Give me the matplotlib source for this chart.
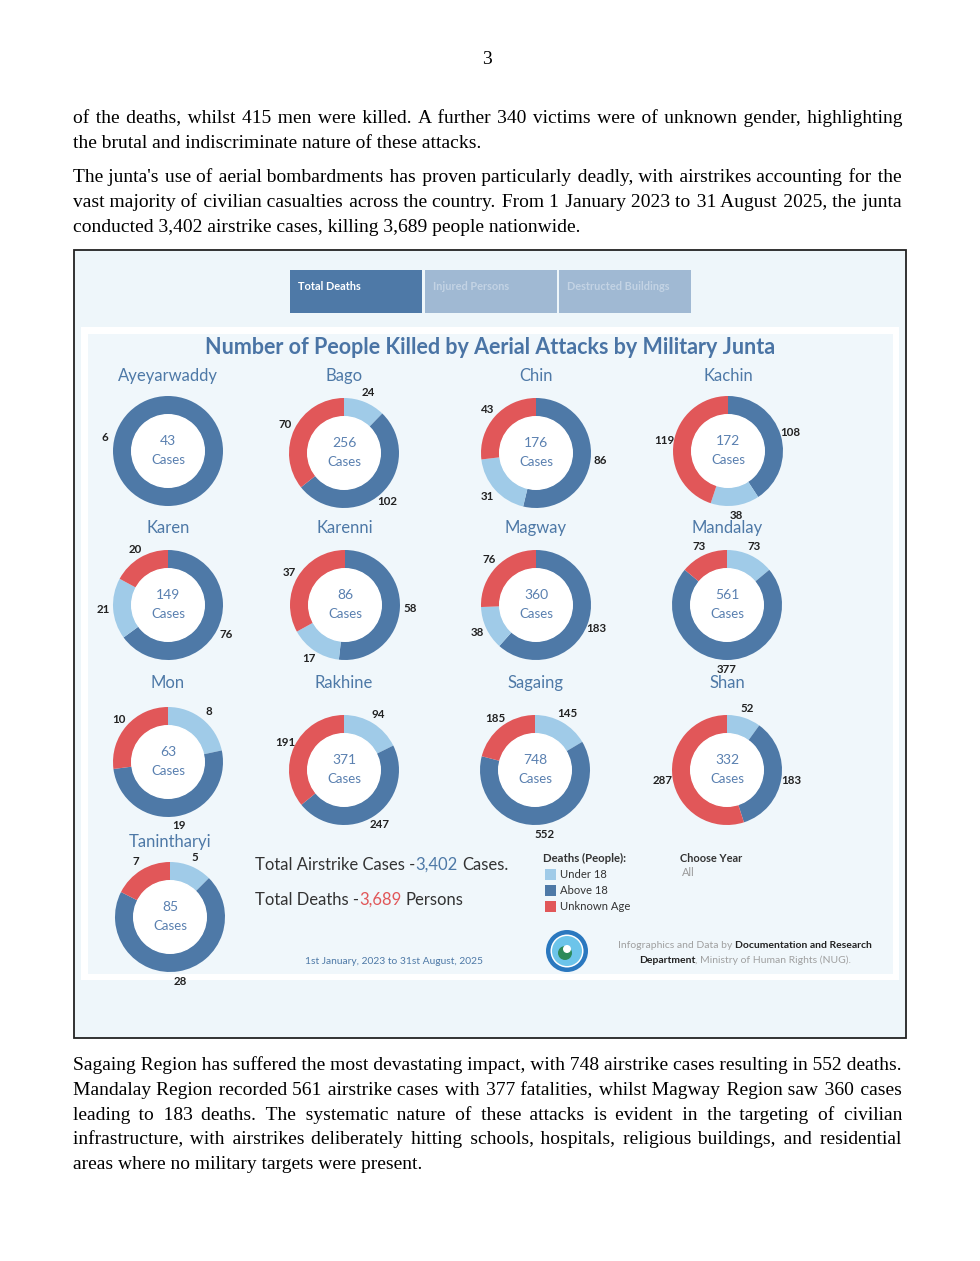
import numpy as np
import matplotlib
matplotlib.use("Agg")
import matplotlib.pyplot as plt
from matplotlib.patches import Rectangle, Circle

W, H = 980, 1261

# ---- data -------------------------------------------------------------
regions = ["Ayeyarwaddy", "Bago", "Chin", "Kachin", "Karen", "Karenni",
           "Magway", "Mandalay", "Mon", "Rakhine", "Sagaing", "Shan",
           "Tanintharyi"]
cases = [43, 256, 176, 172, 149, 86, 360, 561, 63, 371, 748, 332, 85]
under18 = [0, 24, 31, 38, 21, 17, 38, 73, 8, 94, 145, 52, 5]
above18 = [6, 102, 86, 108, 76, 58, 183, 377, 19, 247, 552, 183, 28]
unknown = [0, 70, 43, 119, 20, 37, 76, 73, 10, 191, 185, 287, 7]
# regions where the Tableau sort puts "Above 18" first
adult_first = ["Ayeyarwaddy", "Chin", "Kachin", "Karen", "Karenni", "Magway"]

legend_labels = ["Under 18", "Above 18", "Unknown Age"]
tab_labels = ["Total Deaths", "Injured Persons", "Destructed Buildings"]
chart_title = "Number of People Killed by Aerial Attacks by Military Junta"
date_range = "1st January, 2023 to 31st August, 2025"

para_top = [
    ["of the deaths, whilst 415 men were killed. A further 340 victims were of unknown gender, highlighting",
     "the brutal and indiscriminate nature of these attacks."],
    ["The junta's use of aerial bombardments has proven particularly deadly, with airstrikes accounting for the",
     "vast majority of civilian casualties across the country. From 1 January 2023 to 31 August 2025, the junta",
     "conducted 3,402 airstrike cases, killing 3,689 people nationwide."],
]
para_bottom = [
    ["Sagaing Region has suffered the most devastating impact, with 748 airstrike cases resulting in 552 deaths.",
     "Mandalay Region recorded 561 airstrike cases with 377 fatalities, whilst Magway Region saw 360 cases",
     "leading to 183 deaths. The systematic nature of these attacks is evident in the targeting of civilian",
     "infrastructure, with airstrikes deliberately hitting schools, hospitals, religious buildings, and residential",
     "areas where no military targets were present."],
]

# ---- layout (pixels) ----------------------------------------------------
centers = [(168, 451), (344, 453), (536, 453), (728, 451),
           (168, 605), (345, 605), (536, 605), (727, 605),
           (168, 762), (344, 770), (535, 770), (727, 770),
           (170, 917)]
title_y = [376] * 4 + [528] * 4 + [683] * 4 + [842]

LIGHT = "#a0cbe8"
DARK = "#4e79a7"
RED = "#e15759"
BLUE_TXT = "#4e79a7"
SANS = "Lato"
SERIF = ["Liberation Serif", "DejaVu Serif"]

fig = plt.figure(figsize=(W / 100, H / 100), dpi=100)
fig.patch.set_facecolor("white")
ax = fig.add_axes([0, 0, 1, 1])
ax.set_xlim(0, W)
ax.set_ylim(H, 0)
ax.axis("off")
renderer = fig.canvas.get_renderer()


def text_width(s, **kw):
    t = ax.text(0, 0, s, **kw)
    w = t.get_window_extent(renderer).width
    t.remove()
    return w


def rich_line(x, y, parts, size, ha="left", family=SANS):
    """parts: (text, color, weight, space_before)"""
    made = []
    cur = x
    for s, c, wgt, gap in parts:
        if gap:
            cur += text_width("x x", fontsize=size, family=family, fontweight=wgt) - \
                text_width("xx", fontsize=size, family=family, fontweight=wgt)
        t = ax.text(cur, y, s, color=c, fontsize=size, family=family,
                    fontweight=wgt, va="baseline")
        cur += t.get_window_extent(renderer).width
        made.append(t)
    if ha == "center":
        shift = (cur - x) / 2
        for t in made:
            t.set_x(t.get_position()[0] - shift)


def paragraph(lines, y0, x0=73, x1=902, lh=24.8, size=14):
    # justify each line by padding the word gaps with hair spaces
    hair = text_width("x\u200ax", fontsize=size, family=SERIF) - \
        text_width("xx", fontsize=size, family=SERIF)
    for k, line in enumerate(lines):
        y = y0 + k * lh
        s = line
        if k < len(lines) - 1:
            words = line.split(" ")
            extra = (x1 - x0) - text_width(line, fontsize=size, family=SERIF)
            n = max(0, int(round(extra / hair)))
            gaps = len(words) - 1
            s = words[0]
            for g in range(gaps):
                cnt = (n * (g + 1)) // gaps - (n * g) // gaps
                s += " " + "\u200a" * cnt + words[g + 1]
        ax.text(x0, y, s, fontsize=size, family=SERIF, va="baseline", color="black")


# ---- page text ------------------------------------------------------------
ax.text(487, 64, "3", fontsize=14, family=SERIF, ha="center", va="baseline")
paragraph(para_top[0], 123)
paragraph(para_top[1], 182)
paragraph(para_bottom[0], 1070)

# ---- infographic frame ------------------------------------------------------
ax.add_patch(Rectangle((74, 250), 832, 788, facecolor="#eef6fa",
                       edgecolor="#222222", lw=1.3, zorder=0))
ax.add_patch(Rectangle((81, 327), 818, 653, facecolor="white", lw=0, zorder=0))
ax.add_patch(Rectangle((88, 334), 805, 640, facecolor="#f0f7fb", lw=0, zorder=0))

tab_x = [290, 425, 559]
for i, lab in enumerate(tab_labels):
    active = i == 0
    ax.add_patch(Rectangle((tab_x[i], 270), 132, 43,
                           facecolor=DARK if active else "#a0b9d3", lw=0))
    ax.text(tab_x[i] + 8, 286, lab, fontsize=7.9, family=SANS,
            fontweight="bold", color="white" if active else "#c3d3e4", va="center")

ax.text(490, 348, chart_title, fontsize=15.5, family=SANS, fontweight="bold",
        color="#4a74a5", ha="center", va="center")

# ---- donuts -----------------------------------------------------------------
R = 55
L = 85
for i, name in enumerate(regions):
    cx, cy = centers[i]
    if name in adult_first:
        vals = [above18[i], under18[i], unknown[i]]
        cols = [DARK, LIGHT, RED]
    else:
        vals = [under18[i], above18[i], unknown[i]]
        cols = [LIGHT, DARK, RED]
    keep = [k for k, v in enumerate(vals) if v > 0]
    vals = [vals[k] for k in keep]
    cols = [cols[k] for k in keep]

    dax = fig.add_axes([(cx - L) / W, (H - cy - L) / H, 2 * L / W, 2 * L / H])
    wedges, _ = dax.pie(vals, colors=cols, startangle=90, counterclock=False,
                        radius=1, wedgeprops=dict(width=0.34, linewidth=0))
    dax.add_patch(Circle((0, 0), 0.66, color="white", zorder=3))
    dax.set_xlim(-L / R, L / R)
    dax.set_ylim(-L / R, L / R)
    dax.axis("off")

    for wdg, v in zip(wedges, vals):
        ang = np.deg2rad((wdg.theta1 + wdg.theta2) / 2)
        if len(vals) == 1:
            ang = np.deg2rad(168)
        dax.text(1.18 * np.cos(ang), 1.18 * np.sin(ang), str(v), fontsize=8.3,
                 family=SANS, fontweight="bold", color="#222222",
                 ha="center", va="center", zorder=5)

    dax.text(0, 0.18, str(cases[i]), fontsize=10, family=SANS, color="#5a80b0",
             ha="center", va="center", zorder=5)
    dax.text(0, -0.17, "Cases", fontsize=9.5, family=SANS, color="#5a80b0",
             ha="center", va="center", zorder=5)
    ax.text(cx, title_y[i], name, fontsize=12, family=SANS, color=BLUE_TXT,
            ha="center", va="center")

# ---- totals, legend, credits --------------------------------------------------
total_cases = sum(cases)
total_deaths = sum(under18) + sum(above18) + sum(unknown)
rich_line(255, 870, [("Total Airstrike Cases -", "#333333", "normal", False),
                     (f"{total_cases:,}", BLUE_TXT, "normal", False),
                     ("Cases.", "#333333", "normal", True)], 12)
rich_line(255, 905, [("Total Deaths -", "#333333", "normal", False),
                     (f"{total_deaths:,}", RED, "normal", False),
                     ("Persons", "#333333", "normal", True)], 12)
ax.text(394, 961, date_range, fontsize=7.4, family=SANS, color=BLUE_TXT,
        ha="center", va="center")

ax.text(543, 858, "Deaths (People):", fontsize=8.2, family=SANS,
        fontweight="bold", color="#333333", va="center")
for k, (lab, col) in enumerate(zip(legend_labels, [LIGHT, DARK, RED])):
    yy = 874 + 16 * k
    ax.add_patch(Rectangle((545, yy - 5.5), 11, 11, facecolor=col, lw=0))
    ax.text(560, yy, lab, fontsize=8.1, family=SANS, color="#333333", va="center")

ax.text(680, 858, "Choose Year", fontsize=7.9, family=SANS, fontweight="bold",
        color="#333333", va="center")
ax.text(682, 873, "All", fontsize=7.9, family=SANS, color="#9a9a9a", va="center")

# logo (approximation of the ministry seal)
ax.add_patch(Circle((567, 951), 21, facecolor="#2a78bf", lw=0))
ax.add_patch(Circle((567, 951), 16.5, facecolor="white", lw=0))
ax.add_patch(Circle((567, 951), 15, facecolor="#6cc4ea", lw=0))
ax.add_patch(Circle((565, 953), 7, facecolor="#2c8a5a", lw=0))
ax.add_patch(Circle((567, 949), 4, facecolor="white", lw=0))

rich_line(745, 948, [("Infographics and Data by", "#a0a0a0", "normal", False),
                     ("Documentation and Research", "#222222", "bold", True)],
          7.5, ha="center")
rich_line(745, 963, [("Department", "#222222", "bold", False),
                     (", Ministry of Human Rights (NUG).", "#a0a0a0", "normal", False)],
          7.5, ha="center")

fig.savefig("out.png", dpi=100)
